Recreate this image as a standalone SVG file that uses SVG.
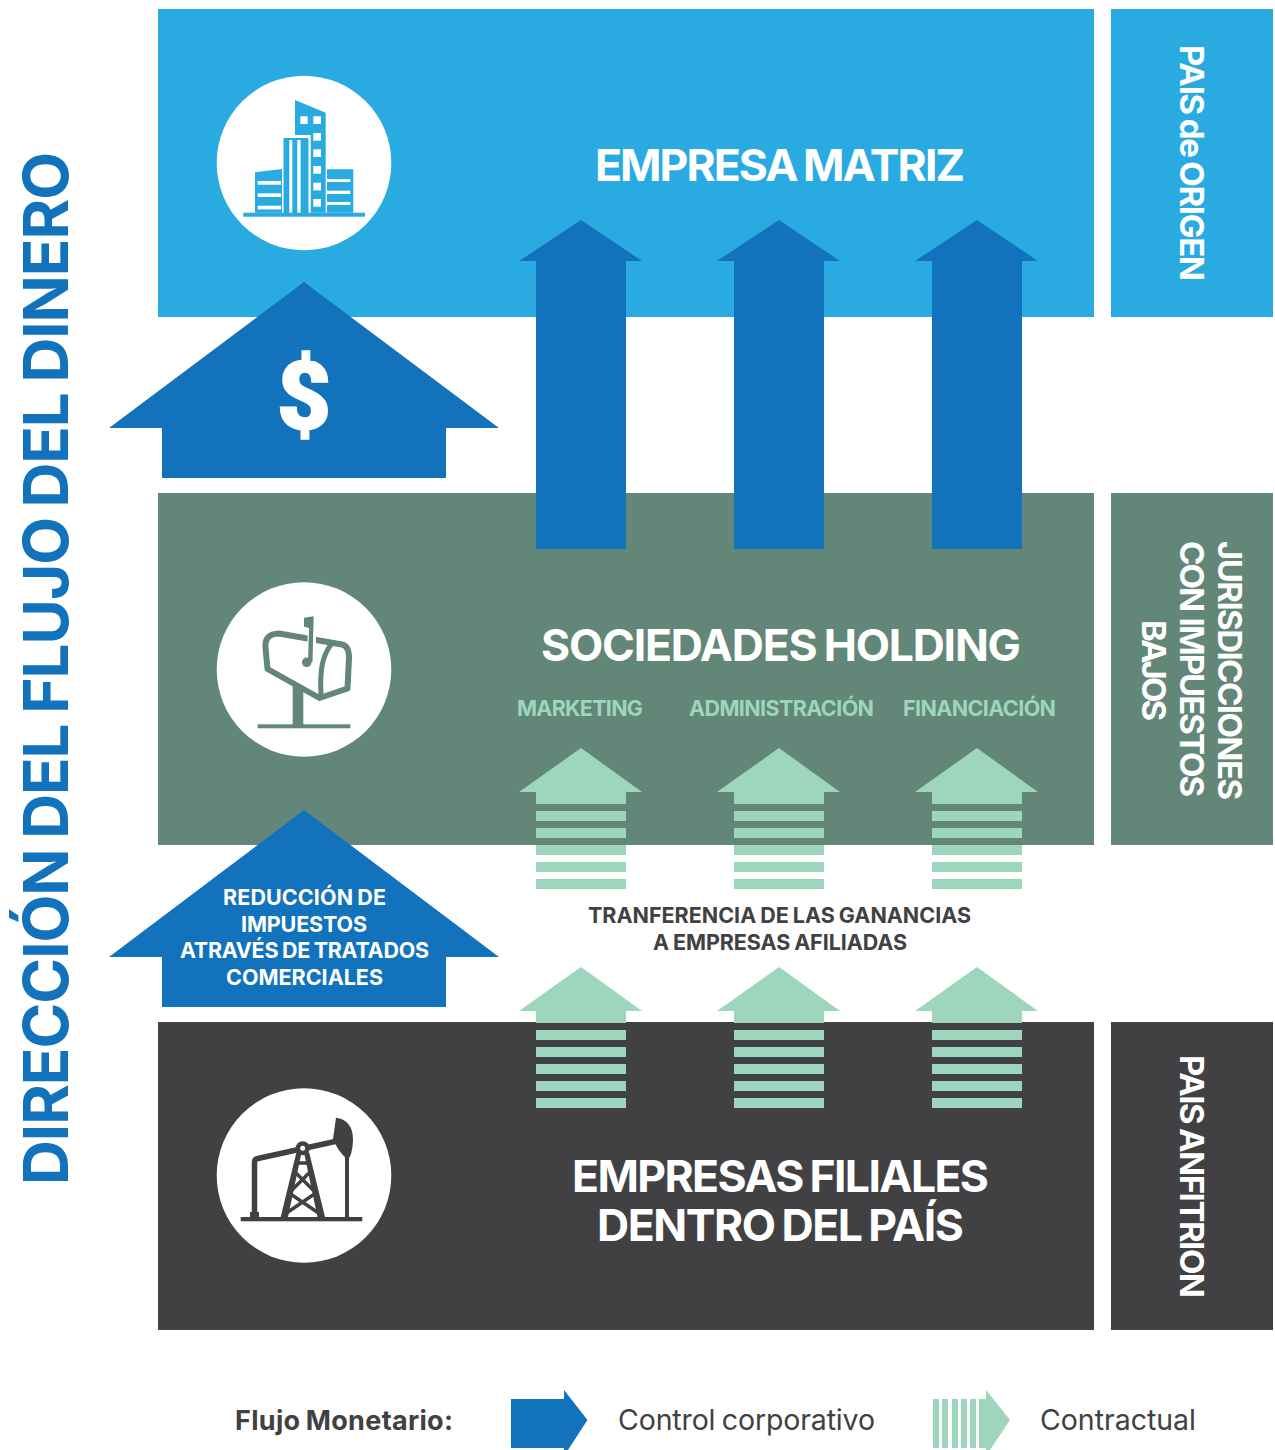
<svg xmlns="http://www.w3.org/2000/svg" width="1275" height="1450" viewBox="0 0 1275 1450">
<style>
text{font-family:Inter,"Liberation Sans",sans-serif;font-weight:700;text-anchor:middle;word-spacing:-0.05em}
.w{fill:#fff}.d{fill:#414042}.lg{fill:#9dd6bc}.b{fill:#1273bc}
.t46{font-size:44.500px}.t36{font-size:33px}.t23{font-size:21.500px}
.sky{fill:#29abe2}.grn{fill:#628677}.drk{fill:#414042}
</style>
<defs>
<polygon id="ctl" points="581,220 642,261 626,261 626,549 536,549 536,261 519,261" class="b"/>
<g id="con" class="lg">
<polygon points="581,748 642,792 626,792 626,804 536,804 536,792 519,792"/>
<rect x="536" y="811" width="90" height="10"/><rect x="536" y="828" width="90" height="10"/><rect x="536" y="845" width="90" height="10"/><rect x="536" y="862" width="90" height="10"/><rect x="536" y="879" width="90" height="10"/>
</g>
</defs>
<rect width="1275" height="1450" fill="#fff"/>
<g id="bands">
<rect x="158" y="9" width="936" height="308" class="sky"/>
<rect x="158" y="493" width="936" height="352" class="grn"/>
<rect x="158" y="1022" width="936" height="308" class="drk"/>
<rect x="1111" y="9" width="162" height="308" class="sky"/>
<rect x="1111" y="493" width="162" height="352" class="grn"/>
<rect x="1111" y="1022" width="162" height="308" class="drk"/>
</g>
<g id="connectors">
<polygon class="b" points="304,282 499,428 446,428 446,478 162,478 162,428 109,428"/>
<polygon class="b" points="304,810 499,957 446,957 446,1007 162,1007 162,957 109,957"/>
<use href="#ctl"/><use href="#ctl" x="198"/><use href="#ctl" x="396"/>
<use href="#con"/><use href="#con" x="198"/><use href="#con" x="396"/>
<use href="#con" y="219"/><use href="#con" x="198" y="219"/><use href="#con" x="396" y="219"/>
</g>
<g id="node-matriz">
<circle cx="304" cy="163" r="87.300" class="w"/>
<g class="sky">
<polygon points="255,172.300 282,169 282,212.700 255,212.700"/>
<polygon points="295,100 325.700,112.700 325.700,212.700 310.700,212.700 310.700,135 295,135"/>
<rect x="283.500" y="138" width="25" height="75"/>
<polygon points="327,169.300 353.300,169.300 353.300,212.700 327,212.700"/>
<rect x="243.300" y="212.700" width="121.700" height="4"/>
</g>
<g class="w">
<rect x="257.700" y="181" width="23.300" height="3.700"/><rect x="257.700" y="193.300" width="23.300" height="3.700"/><rect x="257.700" y="205.700" width="23.300" height="3.700"/>
<rect x="289.300" y="140" width="3" height="72.700"/><rect x="297.300" y="140" width="3.300" height="72.700"/>
<rect x="300.300" y="116.300" width="7.400" height="7.700"/>
<rect x="313.300" y="116.300" width="7.700" height="7.700"/><rect x="313.300" y="133" width="7.700" height="7.700"/><rect x="313.300" y="149.300" width="7.700" height="7.700"/><rect x="313.300" y="166" width="7.700" height="7.700"/><rect x="313.300" y="182.700" width="7.700" height="7.700"/><rect x="313.300" y="199" width="7.700" height="7.700"/>
<rect x="327" y="179" width="23.300" height="3"/><rect x="327" y="190.700" width="23.300" height="3.300"/><rect x="327" y="202" width="23.300" height="3"/>
</g>
<text x="780" y="181" class="t46 w" textLength="370">EMPRESA MATRIZ</text>
</g>
<g id="node-holding">
<circle cx="304" cy="669.500" r="87.300" class="w"/>
<g fill="none" stroke="#628677" stroke-linejoin="round">
<path stroke-width="6" d="M267.500,669 L265.500,648 Q264,634 279,633.500 L342,644.500 Q349,646 349,658 L347.500,688.500 L319.500,698 Z"/>
<path stroke-width="5" d="M332,643 C323,655 319.500,667 321,696"/>
</g>
<rect x="292.700" y="686" width="10.600" height="40" fill="#628677"/>
<rect x="257.700" y="724.300" width="92.600" height="4" fill="#628677"/>
<rect x="307.500" y="628" width="8.500" height="17" fill="#fff"/>
<polygon points="304,617.700 313.700,616.300 312.500,662 308,662 309,628 304,626.700" fill="#628677"/>
<circle cx="306.700" cy="662.300" r="4.800" fill="#628677"/>
<text x="781" y="661" class="t46 w" textLength="480">SOCIEDADES HOLDING</text>
<text x="580" y="716" class="t23 lg" textLength="126">MARKETING</text>
<text x="781.500" y="716" class="t23 lg" textLength="185">ADMINISTRACIÓN</text>
<text x="979.500" y="716" class="t23 lg" textLength="153">FINANCIACIÓN</text>
</g>
<g id="node-filiales">
<circle cx="304" cy="1175.500" r="87.300" class="w"/>
<g fill="#414042">
<rect x="240.700" y="1217" width="121.600" height="4.300"/>
<rect x="250" y="1212" width="9" height="5"/>
<rect x="345" y="1155" width="4" height="62"/>
<path d="M336,1117.700 Q353,1120 353,1140 Q352.500,1155 347.700,1160 Q337,1150 333,1139 Z"/>
<circle cx="302.700" cy="1148.300" r="7"/>
<polygon points="280.700,1217 288,1217 301,1155 296.500,1152"/>
<polygon points="325,1217 317.500,1217 304.500,1155 309,1152"/>
</g>
<g fill="none" stroke="#414042">
<path stroke-width="5.500" d="M254.500,1213 V1162 Q254.500,1159 258,1158.500 L335,1141.500"/>
<path stroke-width="3.500" d="M293,1170 L316,1193 L285,1214 M312,1170 L289,1193 L320,1214 M296,1163 H309"/>
</g>
<circle cx="302.700" cy="1148.300" r="2.500" fill="#fff"/>
<text x="780.500" y="1192" class="t46 w" textLength="417">EMPRESAS FILIALES</text>
<text x="780.500" y="1241" class="t46 w" textLength="367">DENTRO DEL PAÍS</text>
</g>
<g id="labels">
<text transform="translate(68,668.500) rotate(-90)" font-size="62" class="b" textLength="1033">DIRECCIÓN DEL FLUJO DEL DINERO</text>
<text transform="translate(1180,163) rotate(90)" class="t36 w" textLength="236">PAIS de ORIGEN</text>
<text transform="translate(1218,670.500) rotate(90)" class="t36 w" textLength="259">JURISDICCIONES</text>
<text transform="translate(1180,669) rotate(90)" class="t36 w" style="word-spacing:0.05em" textLength="256">CON IMPUESTOS</text>
<text transform="translate(1142,670.500) rotate(90)" class="t36 w" textLength="101">BAJOS</text>
<text transform="translate(1180,1176.500) rotate(90)" class="t36 w" textLength="243">PAIS ANFITRION</text>
<text x="304" y="429" font-size="94" class="w" stroke="#fff" stroke-width="1.500" style="font-family:Roboto,sans-serif;font-weight:900">$</text>
<text x="304.500" y="905" class="t23 w" textLength="163">REDUCCIÓN DE</text>
<text x="304" y="932" class="t23 w" textLength="126">IMPUESTOS</text>
<text x="304.500" y="958" class="t23 w" textLength="249">ATRAVÉS DE TRATADOS</text>
<text x="304.500" y="985" class="t23 w" textLength="157">COMERCIALES</text>
<text x="779.500" y="923" class="t23 d" textLength="383">TRANFERENCIA DE LAS GANANCIAS</text>
<text x="780" y="950" class="t23 d" textLength="254">A EMPRESAS AFILIADAS</text>
</g>
<g id="legend">
<text x="344" y="1430" font-size="27" class="d" textLength="218">Flujo Monetario:</text>
<polygon class="b" points="511,1399 564,1399 564,1390 587.500,1420 564,1456 564,1448 511,1448"/>
<text x="746.500" y="1430" font-size="28.500" class="d" style="font-weight:400" textLength="257">Control corporativo</text>
<g class="lg">
<rect x="933" y="1399" width="6" height="49"/><rect x="942" y="1399" width="6" height="49"/><rect x="952" y="1399" width="6" height="49"/><rect x="961" y="1399" width="6" height="49"/><rect x="970" y="1399" width="6" height="49"/>
<polygon points="979,1399 986,1399 986,1390 1010,1420 986,1456 986,1448 979,1448"/>
</g>
<text x="1118" y="1430" font-size="28.500" class="d" style="font-weight:400" textLength="156">Contractual</text>
</g>
</svg>
